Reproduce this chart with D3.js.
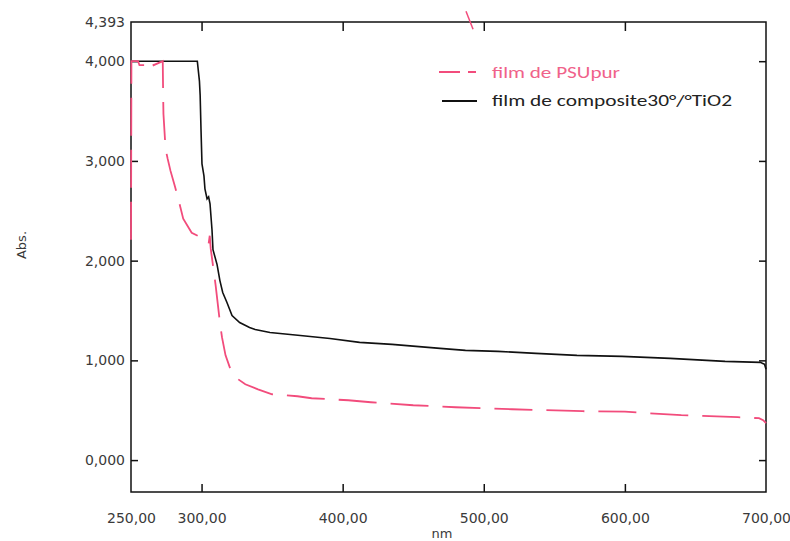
<!DOCTYPE html>
<html>
<head>
<meta charset="utf-8">
<script src="https://cdn.jsdelivr.net/npm/d3@7"></script>
<style>
  html, body { margin: 0; padding: 0; background: #fff; }
  svg { display: block; }
</style>
</head>
<body>
<svg id="chart" width="790" height="541"></svg>
<script>
// ---- data ----
const xTickValues = [250, 300, 400, 500, 600, 700];
const yTickValues = [0, 1, 2, 3, 4, 4.393];
const seriesNames = ["film de PSUpur", "film de composite30°/°TiO2"];

const psuWavelength = [250, 250.3, 255, 256, 260, 261, 265, 266, 272.5, 272.8, 273, 274.5, 276, 278, 281, 283, 287, 293, 300, 305, 305.8, 306.5, 310, 313, 314.5, 317, 320, 325, 331, 340, 350, 368, 378, 404, 420, 450, 480, 520, 570, 600, 640, 680, 695, 698, 700];
const psuAbs = [2.21, 4.0, 4.0, 3.96, 3.96, 4.0, 4.0, 3.96, 4.0, 3.64, 3.47, 3.12, 3.02, 2.90, 2.75, 2.65, 2.42, 2.28, 2.23, 2.17, 2.25, 2.12, 1.75, 1.38, 1.23, 1.05, 0.93, 0.82, 0.76, 0.71, 0.66, 0.64, 0.62, 0.60, 0.58, 0.55, 0.53, 0.51, 0.49, 0.485, 0.45, 0.43, 0.42, 0.40, 0.37];

const compWavelength = [250, 297, 298.5, 299, 299.6, 300.3, 301.7, 302.4, 303.9, 305, 306, 307.4, 308.1, 311, 313, 315, 318, 321.6, 327, 334, 338, 348.5, 370, 391, 412, 435, 469, 487, 510, 537, 566, 598, 632, 671, 696, 699, 700];
const compAbs = [4.0, 4.0, 3.8, 3.66, 3.32, 2.97, 2.85, 2.72, 2.62, 2.64, 2.57, 2.31, 2.11, 1.96, 1.8, 1.68, 1.58, 1.45, 1.38, 1.33, 1.31, 1.28, 1.25, 1.22, 1.18, 1.16, 1.12, 1.10, 1.09, 1.07, 1.05, 1.04, 1.02, 0.99, 0.98, 0.96, 0.91];

// stray pink mark above the frame
const strayWavelength = [487.4, 492.4];
const strayAbs = [4.50, 4.32];

// ---- layout ----
const svg = d3.select("#chart");
const mLeft = 131, mRight = 766, mTop = 22, mBottom = 492;
const pink = "#f24c7c";

const x = d3.scaleLinear().domain([250, 700]).range([mLeft, mRight]);
const y = d3.scaleLinear().domain([-0.32, 4.393]).range([mBottom, mTop]);

const fmtY = v => d3.format(".3f")(v).replace(".", ",");
const fmtX = v => d3.format(".2f")(v).replace(".", ",");

const fontTick = "'DejaVu Sans', Verdana, sans-serif";

// frame
svg.append("rect")
  .attr("x", mLeft).attr("y", mTop)
  .attr("width", mRight - mLeft).attr("height", mBottom - mTop)
  .attr("fill", "none").attr("stroke", "#111").attr("stroke-width", 1.5);

// left axis
const gL = svg.append("g").attr("transform", `translate(${mLeft},0)`)
  .call(d3.axisLeft(y).tickValues(yTickValues).tickFormat(fmtY).tickSizeInner(-7).tickSizeOuter(0).tickPadding(6));
// right axis ticks
const gR = svg.append("g").attr("transform", `translate(${mRight},0)`)
  .call(d3.axisRight(y).tickValues(yTickValues.slice(0, 5)).tickFormat("").tickSizeInner(-7).tickSizeOuter(0));
// bottom axis
const gB = svg.append("g").attr("transform", `translate(0,${mBottom})`)
  .call(d3.axisBottom(x).tickValues(xTickValues).tickFormat(fmtX).tickSizeInner(-8).tickSizeOuter(0).tickPadding(21));
// top axis ticks
const gT = svg.append("g").attr("transform", `translate(0,${mTop})`)
  .call(d3.axisTop(x).tickValues(xTickValues.slice(1, 5)).tickFormat("").tickSizeInner(-9).tickSizeOuter(0));

[gL, gR, gB, gT].forEach(g => {
  g.select(".domain").remove();
  g.selectAll(".tick line").attr("stroke", "#111").attr("stroke-width", 1.5);
  g.selectAll(".tick text").attr("fill", "#3a3a3a").style("font-family", fontTick).style("font-size", "14px");
});
// remove tick marks at the frame edges
gL.selectAll(".tick").filter(d => d === 4.393).select("line").remove();
gB.selectAll(".tick").filter(d => d === 250 || d === 700).select("line").remove();

// axis titles
svg.append("text").attr("transform", "translate(26,245) rotate(-90)")
  .attr("text-anchor", "middle").attr("fill", "#3a3a3a")
  .style("font-family", fontTick).style("font-size", "13px").text("Abs.");
svg.append("text").attr("x", 442).attr("y", 538)
  .attr("text-anchor", "middle").attr("fill", "#3a3a3a")
  .style("font-family", fontTick).style("font-size", "13px").text("nm");

// lines
const line = d3.line().x(d => x(d[0])).y(d => y(d[1])).curve(d3.curveLinear);
const psu = psuWavelength.map((w, i) => [w, psuAbs[i]]);
const comp = compWavelength.map((w, i) => [w, compAbs[i]]);
const stray = strayWavelength.map((w, i) => [w, strayAbs[i]]);

svg.append("path").datum(comp).attr("d", line)
  .attr("fill", "none").attr("stroke", "#111").attr("stroke-width", 1.6);
svg.append("path").datum(psu).attr("d", line)
  .attr("fill", "none").attr("stroke", pink).attr("stroke-width", 1.8)
  .attr("stroke-dasharray", "38,14");
svg.append("path").datum(stray).attr("d", line)
  .attr("fill", "none").attr("stroke", pink).attr("stroke-width", 1.5);

// legend
const legFont = "Carlito, 'Open Sans', sans-serif";
svg.append("line").attr("x1", 439).attr("x2", 460).attr("y1", 72).attr("y2", 72)
  .attr("stroke", pink).attr("stroke-width", 2);
svg.append("line").attr("x1", 468).attr("x2", 476).attr("y1", 72).attr("y2", 72)
  .attr("stroke", pink).attr("stroke-width", 2);
svg.append("text").attr("x", 492).attr("y", 78).attr("fill", "#f0628a")
  .style("font-family", legFont).style("font-size", "16px")
  .attr("textLength", 128).attr("lengthAdjust", "spacingAndGlyphs")
  .text(seriesNames[0]);
svg.append("line").attr("x1", 442).attr("x2", 477).attr("y1", 101).attr("y2", 101)
  .attr("stroke", "#111").attr("stroke-width", 2);
svg.append("text").attr("x", 492).attr("y", 106).attr("fill", "#222")
  .style("font-family", legFont).style("font-size", "16px")
  .attr("textLength", 240).attr("lengthAdjust", "spacingAndGlyphs")
  .text(seriesNames[1]);
</script>
</body>
</html>
